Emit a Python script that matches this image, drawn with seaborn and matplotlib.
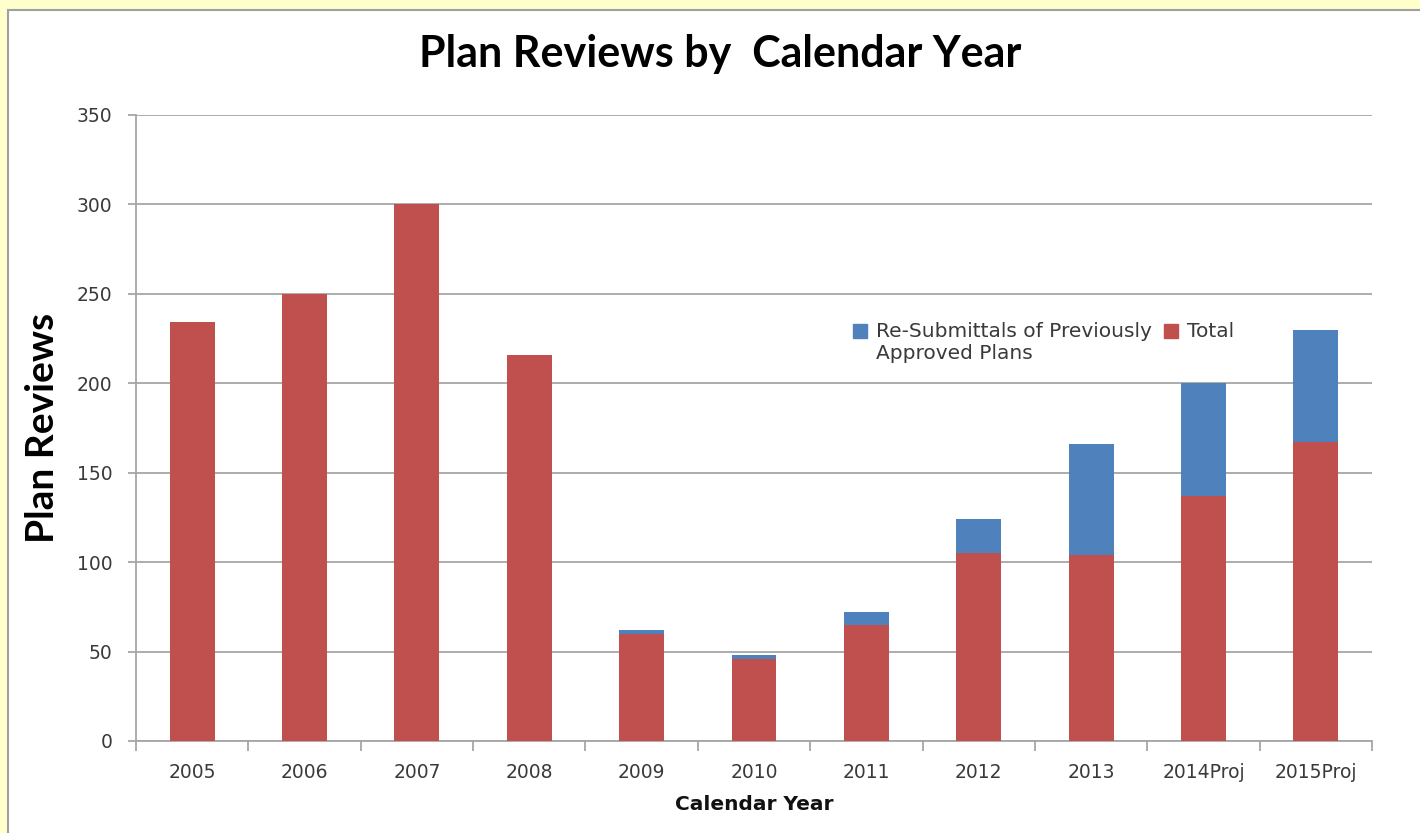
import matplotlib
matplotlib.use("Agg")
import matplotlib.pyplot as plt
import matplotlib.patches as mpatches
from matplotlib.legend_handler import HandlerPatch
from matplotlib.ticker import FixedLocator
import seaborn as sns
import pandas as pd
import numpy as np

years = ['2005', '2006', '2007', '2008', '2009', '2010', '2011', '2012', '2013', '2014Proj', '2015Proj']
total_plans = [234, 250, 300, 216, 60, 46, 65, 105, 104, 137, 167]
resubmittals = [0, 0, 0, 0, 2, 2, 7, 19, 62, 63, 63]

RED = '#C0504D'
BLUE = '#4F81BD'
GRID = '#A6A6A6'
TXT = '#3A3A3A'

sns.set_theme(style='white')
plt.rcParams['font.family'] = ['Lato', 'DejaVu Sans']

df = pd.DataFrame({'year': years, 'total': total_plans, 'resub': resubmittals})
df['stack_top'] = df['total'] + df['resub']

fig = plt.figure(figsize=(14.2, 8.33), dpi=100)
fig.patch.set_facecolor('#FFFFCC')
panel = mpatches.Rectangle((8 / 1420, -0.01), 1.0, 1 - 10 / 833 + 0.01,
                           transform=fig.transFigure, facecolor='white',
                           edgecolor='#A0A0A0', linewidth=1.5, zorder=-10)
fig.patches.append(panel)

ax = fig.add_axes([136 / 1420, 1 - 741 / 833, (1372 - 136) / 1420, (741 - 115) / 833])
ax.set_zorder(5)
ax.patch.set_alpha(0)

sns.barplot(data=df, x='year', y='stack_top', color=BLUE, width=0.4,
            saturation=1, ax=ax, zorder=3, linewidth=0)
sns.barplot(data=df, x='year', y='total', color=RED, width=0.4,
            saturation=1, ax=ax, zorder=4, linewidth=0)

ax.set_ylim(0, 350)
ax.set_xlim(-0.5, len(years) - 0.5)
ax.set_yticks(np.arange(0, 351, 50))
ax.yaxis.grid(True, color=GRID, linewidth=1.3, zorder=0)
ax.xaxis.grid(False)
ax.set_axisbelow(True)

for s in ['top', 'right']:
    ax.spines[s].set_visible(False)
for s in ['left', 'bottom']:
    ax.spines[s].set_color(GRID)
    ax.spines[s].set_linewidth(1.3)

ax.tick_params(axis='y', which='major', length=6, width=1.3, color=GRID,
               labelsize=13.5, labelcolor=TXT, pad=11, left=True)
ax.tick_params(axis='x', which='major', length=0, labelsize=13.5,
               labelcolor=TXT, pad=16)
for lab in ax.get_xticklabels() + ax.get_yticklabels():
    lab.set_family('DejaVu Sans')
ax.xaxis.set_minor_locator(FixedLocator(np.arange(-0.5, len(years), 1.0)))
ax.tick_params(axis='x', which='minor', length=7, width=1.3, color=GRID, bottom=True)

ax.set_xlabel('Calendar Year', fontsize=14.5, fontweight='bold', labelpad=9,
              family='DejaVu Sans', color='#111111')
ax.set_ylabel('Plan Reviews', fontsize=28, fontweight='bold', labelpad=12,
              color='black')

fig.text(0.507, 0.9355, 'Plan Reviews by  Calendar Year', ha='center', va='center',
         fontsize=31, fontweight='bold', color='black')


def top_patch(legend, orig_handle, xdescent, ydescent, width, height, fontsize):
    return mpatches.Rectangle((-xdescent, -ydescent + 0.6 * fontsize), width, height)


handles = [mpatches.Patch(color=BLUE, label='Re-Submittals of Previously\nApproved Plans'),
           mpatches.Patch(color=RED, label='Total\n ')]
leg = ax.legend(handles=handles, ncol=2, frameon=False,
                prop={'family': 'DejaVu Sans', 'size': 14.5},
                loc='upper left', bbox_to_anchor=((845 - 136) / (1372 - 136), (741 - 314) / 626),
                handlelength=0.7, handleheight=0.7, handletextpad=0.45,
                columnspacing=0.6, borderaxespad=0, labelcolor=TXT,
                handler_map={mpatches.Patch: HandlerPatch(patch_func=top_patch)})

fig.savefig('out.png', dpi=100, facecolor=fig.get_facecolor())
